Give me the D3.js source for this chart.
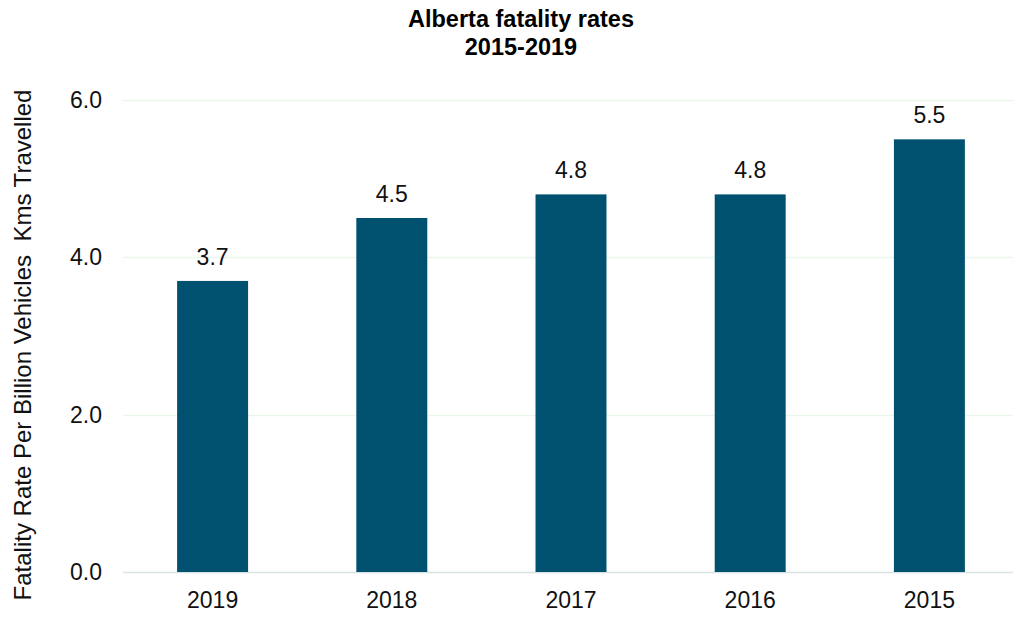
<!DOCTYPE html>
<html>
<head>
<meta charset="utf-8">
<script src="https://cdn.jsdelivr.net/npm/d3@7"></script>
<style>
  html, body { margin: 0; padding: 0; background: #ffffff; }
  svg { display: block; font-family: "Liberation Sans", Arial, sans-serif; }
</style>
</head>
<body>
<svg id="chart" width="1013" height="618"></svg>
<script>
// Alberta fatality rates per billion vehicle-km, 2015-2019
const years = ["2019", "2018", "2017", "2016", "2015"];
const rates = [3.7, 4.5, 4.8, 4.8, 5.5];
const yTicks = [0, 2, 4, 6];
const titleLines = ["Alberta fatality rates", "2015-2019"];
const yAxisTitle = "Fatality Rate Per Billion Vehicles  Kms Travelled";

const W = 1013, H = 618;
const margin = { top: 100, right: -6, bottom: 46, left: 123 };
const svg = d3.select("#chart");

const x = d3.scaleBand()
  .domain(years)
  .range([margin.left, W - margin.right])
  .paddingInner(0.604)
  .paddingOuter(0.302);

const y = d3.scaleLinear()
  .domain([0, 6])
  .range([H - margin.bottom, margin.top]);

// horizontal gridlines
svg.append("g")
  .selectAll("line")
  .data(yTicks)
  .join("line")
  .attr("x1", margin.left)
  .attr("x2", W)
  .attr("y1", d => Math.round(y(d)) + 0.5)
  .attr("y2", d => Math.round(y(d)) + 0.5)
  .attr("stroke", d => d === 0 ? "#d8e2e2" : "#e9f6ea")
  .attr("stroke-width", 1.5);

// y-axis tick labels
const yAxis = d3.axisLeft(y)
  .tickValues(yTicks)
  .tickFormat(d3.format(".1f"))
  .tickSize(0)
  .tickPadding(21);

svg.append("g")
  .attr("transform", `translate(${margin.left},0)`)
  .call(yAxis)
  .call(g => g.select(".domain").remove())
  .call(g => g.selectAll("text")
    .attr("font-size", 23)
    .attr("font-family", "Liberation Sans, Arial, sans-serif")
    .attr("fill", "#111"));

// x-axis category labels
const xAxis = d3.axisBottom(x).tickSize(0).tickPadding(20);
svg.append("g")
  .attr("transform", `translate(0,${y(0)})`)
  .call(xAxis)
  .call(g => g.select(".domain").remove())
  .call(g => g.selectAll("text")
    .attr("font-size", 23)
    .attr("font-family", "Liberation Sans, Arial, sans-serif")
    .attr("fill", "#111"));

// bars
svg.append("g")
  .selectAll("rect")
  .data(years)
  .join("rect")
  .attr("x", d => x(d))
  .attr("width", x.bandwidth())
  .attr("y", (d, i) => y(rates[i]))
  .attr("height", (d, i) => y(0) - y(rates[i]))
  .attr("fill", "#00506f");

// value labels above bars
svg.append("g")
  .selectAll("text")
  .data(years)
  .join("text")
  .attr("x", d => x(d) + x.bandwidth() / 2)
  .attr("y", (d, i) => y(rates[i]) - 16)
  .attr("text-anchor", "middle")
  .attr("font-size", 23)
  .attr("fill", "#111")
  .text((d, i) => d3.format(".1f")(rates[i]));

// title
svg.append("g")
  .selectAll("text")
  .data(titleLines)
  .join("text")
  .attr("x", 521)
  .attr("y", (d, i) => 27 + i * 28)
  .attr("text-anchor", "middle")
  .attr("font-size", 23.5)
  .attr("font-weight", "bold")
  .attr("fill", "#000")
  .text(d => d);

// y-axis title
svg.append("text")
  .attr("transform", `translate(31,345) rotate(-90)`)
  .attr("text-anchor", "middle")
  .attr("font-size", 24)
  .attr("fill", "#111")
  .attr("xml:space", "preserve")
  .style("white-space", "pre")
  .text(yAxisTitle);
</script>
</body>
</html>
